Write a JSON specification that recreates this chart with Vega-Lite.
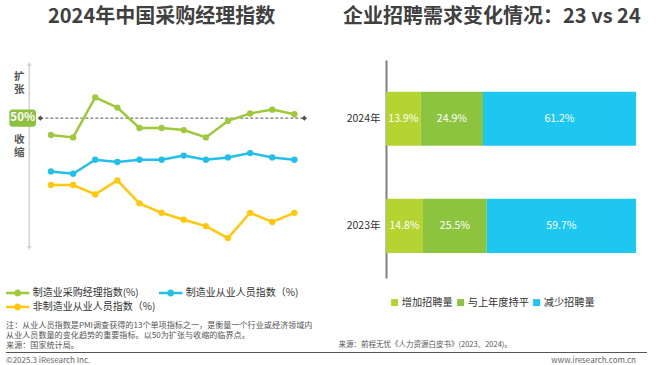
{
 "$schema": "https://vega.github.io/schema/vega-lite/v6.json",
 "padding": {"left": 5, "top": 7, "right": 0, "bottom": 0},
 "background": "white",
 "config": {"font": "Noto Sans CJK SC", "view": {"stroke": null}, "axis": {"grid": false}},
 "datasets": {
  "pmi": [
   {"month": 1, "series": "制造业采购经理指数(%)", "value": 49.27},
   {"month": 2, "series": "制造业采购经理指数(%)", "value": 49.16},
   {"month": 3, "series": "制造业采购经理指数(%)", "value": 50.90},
   {"month": 4, "series": "制造业采购经理指数(%)", "value": 50.46},
   {"month": 5, "series": "制造业采购经理指数(%)", "value": 49.57},
   {"month": 6, "series": "制造业采购经理指数(%)", "value": 49.57},
   {"month": 7, "series": "制造业采购经理指数(%)", "value": 49.48},
   {"month": 8, "series": "制造业采购经理指数(%)", "value": 49.16},
   {"month": 9, "series": "制造业采购经理指数(%)", "value": 49.88},
   {"month": 10, "series": "制造业采购经理指数(%)", "value": 50.20},
   {"month": 11, "series": "制造业采购经理指数(%)", "value": 50.37},
   {"month": 12, "series": "制造业采购经理指数(%)", "value": 50.17},
   {"month": 1, "series": "制造业从业人员指数（%)", "value": 47.68},
   {"month": 2, "series": "制造业从业人员指数（%)", "value": 47.58},
   {"month": 3, "series": "制造业从业人员指数（%)", "value": 48.19},
   {"month": 4, "series": "制造业从业人员指数（%)", "value": 48.09},
   {"month": 5, "series": "制造业从业人员指数（%)", "value": 48.19},
   {"month": 6, "series": "制造业从业人员指数（%)", "value": 48.19},
   {"month": 7, "series": "制造业从业人员指数（%)", "value": 48.37},
   {"month": 8, "series": "制造业从业人员指数（%)", "value": 48.19},
   {"month": 9, "series": "制造业从业人员指数（%)", "value": 48.29},
   {"month": 10, "series": "制造业从业人员指数（%)", "value": 48.48},
   {"month": 11, "series": "制造业从业人员指数（%)", "value": 48.29},
   {"month": 12, "series": "制造业从业人员指数（%)", "value": 48.19},
   {"month": 1, "series": "非制造业从业人员指数（%)", "value": 47.09},
   {"month": 2, "series": "非制造业从业人员指数（%)", "value": 47.09},
   {"month": 3, "series": "非制造业从业人员指数（%)", "value": 46.68},
   {"month": 4, "series": "非制造业从业人员指数（%)", "value": 47.29},
   {"month": 5, "series": "非制造业从业人员指数（%)", "value": 46.29},
   {"month": 6, "series": "非制造业从业人员指数（%)", "value": 45.88},
   {"month": 7, "series": "非制造业从业人员指数（%)", "value": 45.58},
   {"month": 8, "series": "非制造业从业人员指数（%)", "value": 45.30},
   {"month": 9, "series": "非制造业从业人员指数（%)", "value": 44.78},
   {"month": 10, "series": "非制造业从业人员指数（%)", "value": 45.88},
   {"month": 11, "series": "非制造业从业人员指数（%)", "value": 45.48},
   {"month": 12, "series": "非制造业从业人员指数（%)", "value": 45.88}
  ],
  "hire": [
   {"year": "2024年", "type": "增加招聘量", "idx": 1, "share": 0.139},
   {"year": "2024年", "type": "与上年度持平", "idx": 2, "share": 0.249},
   {"year": "2024年", "type": "减少招聘量", "idx": 3, "share": 0.612},
   {"year": "2023年", "type": "增加招聘量", "idx": 1, "share": 0.148},
   {"year": "2023年", "type": "与上年度持平", "idx": 2, "share": 0.255},
   {"year": "2023年", "type": "减少招聘量", "idx": 3, "share": 0.597}
  ]
 },
 "resolve": {"scale": {"x": "independent", "y": "independent", "color": "independent"}, "legend": {"color": "independent"}, "axis": {"x": "independent", "y": "independent"}},
 "vconcat": [
  {
   "resolve": {"scale": {"x": "independent", "y": "independent", "color": "independent"}, "legend": {"color": "independent"}, "axis": {"x": "independent", "y": "independent"}},
   "hconcat": [
    {
     "width": 264,
     "height": 193,
     "title": {"text": "2024年中国采购经理指数", "anchor": "start", "frame": "group", "dx": 7, "offset": 33, "fontSize": 20, "fontWeight": "bold", "color": "#404040"},
     "layer": [
      {
       "data": {"values": [{}]},
       "mark": {"type": "rule", "color": "#d3d3d3", "strokeWidth": 1.5},
       "encoding": {
        "x": {"datum": 0.02, "type": "quantitative", "axis": null},
        "y": {"datum": 52.3, "type": "quantitative", "axis": null},
        "y2": {"datum": 44.4}
       }
      },
      {
       "data": {"values": [{}]},
       "mark": {"type": "point", "shape": "triangle-up", "filled": true, "color": "#d3d3d3", "size": 22, "opacity": 1},
       "encoding": {
        "x": {"datum": 0.02, "type": "quantitative", "axis": null},
        "y": {"datum": 52.36, "type": "quantitative", "axis": null}
       }
      },
      {
       "data": {"values": [{}]},
       "mark": {"type": "point", "shape": "triangle-down", "filled": true, "color": "#d3d3d3", "size": 22, "opacity": 1},
       "encoding": {
        "x": {"datum": 0.02, "type": "quantitative", "axis": null},
        "y": {"datum": 44.35, "type": "quantitative", "axis": null}
       }
      },
      {
       "data": {"values": [{}]},
       "mark": {"type": "rule", "color": "#555555", "strokeWidth": 1, "strokeDash": [3, 2]},
       "encoding": {
        "x": {"datum": 0.52, "type": "quantitative", "axis": null},
        "x2": {"datum": 12.45},
        "y": {"datum": 50, "type": "quantitative", "axis": null}
       }
      },
      {
       "data": {"values": [{}]},
       "mark": {"type": "point", "shape": "diamond", "filled": true, "color": "#555555", "size": 28, "opacity": 1},
       "encoding": {
        "x": {"datum": 0.52, "type": "quantitative", "axis": null},
        "y": {"datum": 50, "type": "quantitative", "axis": null}
       }
      },
      {
       "data": {"values": [{}]},
       "mark": {"type": "point", "shape": "diamond", "filled": true, "color": "#555555", "size": 28, "opacity": 1},
       "encoding": {
        "x": {"datum": 12.45, "type": "quantitative", "axis": null},
        "y": {"datum": 50, "type": "quantitative", "axis": null}
       }
      },
      {
       "data": {"values": [{}]},
       "mark": {"type": "rect", "color": "#8DC140", "cornerRadius": 3},
       "encoding": {
        "x": {"datum": -0.882, "type": "quantitative", "axis": null},
        "x2": {"datum": 0.324},
        "y": {"datum": 50.38, "type": "quantitative", "axis": null},
        "y2": {"datum": 49.62}
       }
      },
      {
       "data": {"values": [{}]},
       "mark": {"type": "text", "text": "50%", "color": "white", "fontSize": 11.5, "fontWeight": "bold", "align": "center", "baseline": "middle"},
       "encoding": {
        "x": {"datum": -0.277, "type": "quantitative", "axis": null},
        "y": {"datum": 50, "type": "quantitative", "axis": null}
       }
      },
      {
       "data": {"values": [{}]},
       "mark": {"type": "text", "text": ["扩", "张"], "color": "#555555", "fontSize": 10.5, "fontWeight": "bold", "lineHeight": 12.8, "align": "center", "baseline": "middle"},
       "encoding": {
        "x": {"datum": -0.43, "type": "quantitative", "axis": null},
        "y": {"datum": 51.79, "type": "quantitative", "axis": null}
       }
      },
      {
       "data": {"values": [{}]},
       "mark": {"type": "text", "text": ["收", "缩"], "color": "#555555", "fontSize": 10.5, "fontWeight": "bold", "lineHeight": 12.8, "align": "center", "baseline": "middle"},
       "encoding": {
        "x": {"datum": -0.43, "type": "quantitative", "axis": null},
        "y": {"datum": 49.05, "type": "quantitative", "axis": null}
       }
      },
      {
       "data": {"values": [{}]},
       "mark": {"type": "text", "text": ["注：从业人员指数是PMI调查获得的13个单项指标之一，是衡量一个行业或经济领域内", "从业人员数量的变化趋势的重要指标。以50为扩张与收缩的临界点。", "来源：国家统计局。"], "color": "#555555", "fontSize": 8.1, "lineHeight": 10, "align": "left", "baseline": "top"},
       "encoding": {
        "x": {"datum": -1.03, "type": "quantitative", "axis": null},
        "y": {"datum": 41.13, "type": "quantitative", "axis": null}
       }
      },
      {
       "data": {"name": "pmi"},
       "mark": {"type": "line", "strokeWidth": 2.5},
       "encoding": {
        "x": {
         "field": "month", "type": "quantitative",
         "scale": {"domain": [0.55, 12.48], "nice": false, "zero": false},
         "axis": {
          "values": [1, 2, 3, 4, 5, 6, 7, 8, 9, 10, 11, 12],
          "labelExpr": "datum.value + '月'",
          "ticks": false, "grid": false, "title": null,
          "domainColor": "#555555", "domainWidth": 1.5,
          "labelFontSize": 10.5, "labelColor": "#333333", "labelPadding": 8,
          "labelFlush": false, "labelOverlap": false
         }
        },
        "y": {"field": "value", "type": "quantitative", "scale": {"domain": [44.13, 52.53], "nice": false, "zero": false}, "axis": null},
        "color": {
         "field": "series", "type": "nominal",
         "scale": {"domain": ["制造业采购经理指数(%)", "非制造业从业人员指数（%)", "制造业从业人员指数（%)"], "range": ["#9FC93B", "#FFC80A", "#22BFEA"]},
         "legend": {
          "orient": "none", "legendX": -28.3, "legendY": 228, "columns": 2, "title": null,
          "symbolType": "M-2.33,-0.25H2.33V0.25H-2.33Z M0.7,0A0.7,0.7,0,1,1,-0.7,0A0.7,0.7,0,1,1,0.7,0Z",
          "symbolSize": 100, "symbolStrokeWidth": 0, "symbolOpacity": 1,
          "labelFontSize": 10, "labelColor": "#333333", "labelOffset": 10,
          "columnPadding": 3, "rowPadding": 4
         }
        }
       }
      },
      {
       "data": {"name": "pmi"},
       "mark": {"type": "point", "filled": true, "size": 40, "opacity": 1},
       "encoding": {
        "x": {"field": "month", "type": "quantitative", "axis": null},
        "y": {"field": "value", "type": "quantitative", "axis": null},
        "color": {"field": "series", "type": "nominal"}
       }
      }
     ]
    },
    {
     "width": 250,
     "height": 218,
     "title": {"text": "企业招聘需求变化情况：23 vs 24", "anchor": "start", "frame": "group", "dx": -43, "offset": 33, "fontSize": 20, "fontWeight": "bold", "color": "#404040"},
     "data": {"name": "hire"},
     "layer": [
      {
       "mark": {"type": "bar"},
       "encoding": {
        "y": {
         "field": "year", "type": "nominal", "sort": ["2024年", "2023年"],
         "scale": {"paddingInner": 0.496, "paddingOuter": 0.265, "align": 0.558},
         "axis": {"title": null, "ticks": false, "domainColor": "#7F7F7F", "domainWidth": 2, "labelFontSize": 10.5, "labelColor": "#333333", "labelPadding": 6}
        },
        "x": {
         "field": "share", "type": "quantitative", "stack": "zero",
         "scale": {"domain": [0, 1], "nice": false},
         "axis": {
          "title": "来源：前程无忧《人力资源白皮书》(2023、2024)。",
          "labels": false, "ticks": false, "domain": false, "grid": false,
          "titleFontSize": 7.5, "titleFontWeight": "normal", "titleColor": "#555555",
          "titleAnchor": "start", "titleAlign": "left", "titleBaseline": "middle",
          "titleX": -48, "titleY": 66.3
         }
        },
        "order": {"field": "idx", "type": "quantitative"},
        "color": {
         "field": "type", "type": "nominal",
         "sort": ["增加招聘量", "与上年度持平", "减少招聘量"],
         "scale": {"domain": ["增加招聘量", "与上年度持平", "减少招聘量"], "range": ["#B5D331", "#8DC43F", "#1EC7F0"]},
         "legend": {
          "orient": "none", "legendX": 3.5, "legendY": 237.5, "direction": "horizontal", "title": null,
          "symbolType": "square", "symbolSize": 49, "symbolStrokeWidth": 0, "gridAlign": "none",
          "labelFontSize": 10.2, "labelColor": "#333333", "labelOffset": 2, "columnPadding": 2
         }
        }
       }
      },
      {
       "mark": {"type": "text", "fontSize": 10.5, "baseline": "middle", "align": "center", "color": "white"},
       "encoding": {
        "y": {"field": "year", "type": "nominal", "sort": ["2024年", "2023年"]},
        "x": {"field": "share", "type": "quantitative", "stack": "zero", "bandPosition": 0.5},
        "order": {"field": "idx", "type": "quantitative"},
        "detail": {"field": "type", "type": "nominal"},
        "text": {"field": "share", "type": "quantitative", "format": ".1%"}
       }
      }
     ]
    }
   ],
   "spacing": 25
  },
  {
   "width": 606,
   "height": 1,
   "layer": [
    {
     "data": {"values": [{}]},
     "mark": {"type": "rule", "color": "#555555", "strokeWidth": 1},
     "encoding": {
      "x": {"datum": -0.0578, "type": "quantitative", "scale": {"domain": [0, 1], "nice": false, "zero": false}, "axis": null},
      "x2": {"datum": 1}
     }
    },
    {
     "data": {"values": [{}]},
     "mark": {"type": "text", "text": "©2025.3 iResearch Inc.", "color": "#666666", "fontSize": 8, "align": "left", "baseline": "middle", "dy": 8.5},
     "encoding": {
      "x": {"datum": -0.0578, "type": "quantitative", "axis": null}
     }
    },
    {
     "data": {"values": [{}]},
     "mark": {"type": "text", "text": "www.iresearch.com.cn", "color": "#666666", "fontSize": 8, "align": "right", "baseline": "middle", "dy": 8.5},
     "encoding": {
      "x": {"datum": 0.9818, "type": "quantitative", "axis": null}
     }
    }
   ]
  }
 ],
 "spacing": 1
}
